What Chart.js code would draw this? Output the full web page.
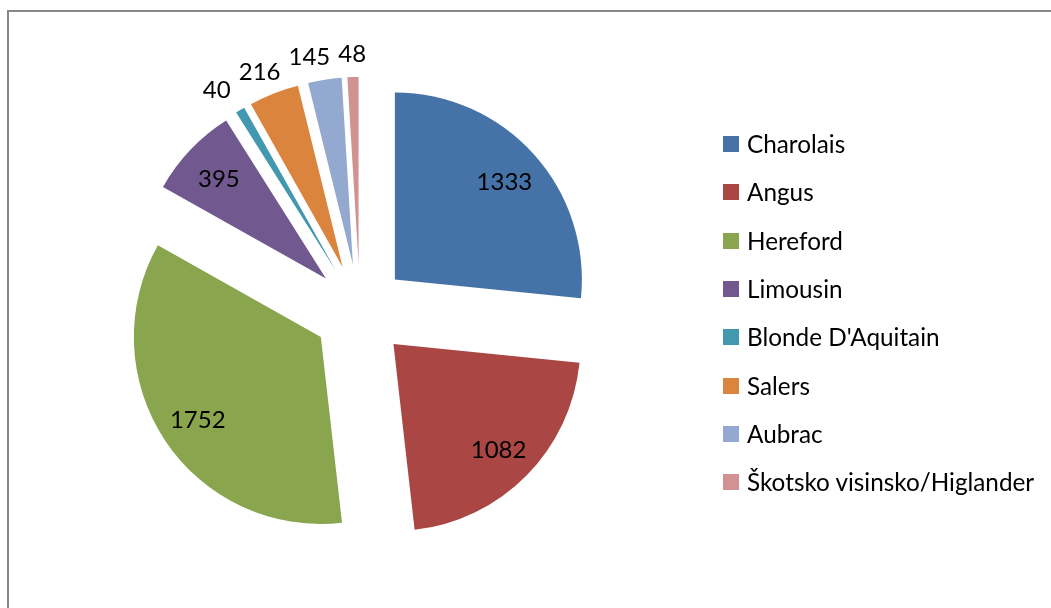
<!DOCTYPE html>
<html>
<head>
<meta charset="utf-8">
<script src="https://cdn.jsdelivr.net/npm/chart.js@4.4.0/dist/chart.umd.min.js"></script>
<style>
    body { margin: 0; background: #fff; font-family: Lato, "Open Sans", sans-serif; }
    #wrap { position: relative; width: 1051px; height: 608px; overflow: hidden; }
    #frame { position: absolute; left: 7px; top: 10px; width: 1100px; height: 700px;
             border-left: 2px solid #878787; border-top: 2px solid #878787; }
    #cattle-chart { position: absolute; left: 0; top: 0; }
    #legend { position: absolute; left: 723px; top: 136px; }
    .item { position: absolute; left: 0; height: 16px; white-space: nowrap; }
    .box { position: absolute; left: 0; top: 0; width: 16px; height: 16px; }
    .txt { position: absolute; left: 24px; top: -9px; font-size: 24.3px; line-height: 34px; color: #000; }
</style>
</head>
<body>
<div id="wrap">
    <div id="frame"></div>
    <canvas id="cattle-chart" width="1051" height="608"></canvas>
    <div id="legend"></div>
</div>
<script>
// --- Data ---
const breeds = ['Charolais', 'Angus', 'Hereford', 'Limousin', 'Blonde D\'Aquitain', 'Salers', 'Aubrac', 'Škotsko visinsko/Higlander'];
const headCount = [1333, 1082, 1752, 395, 40, 216, 145, 48];
const breedColors = ['#4572A7', '#AA4643', '#89A54E', '#71588F', '#4198AF', '#DB843D', '#93A9CF', '#D19392'];

const EXPLODE = 47;   // how far each slice is pulled out
const PIE_RADIUS = 187;

// Draw each slice pushed out along its middle angle (Excel style exploded pie)
const explodePlugin = {
    id: 'explode',
    beforeDatasetDraw(chart, args) {
        const ctx = chart.ctx;
        args.meta.data.forEach(arc => {
            const mid = (arc.startAngle + arc.endAngle) / 2;
            ctx.save();
            ctx.translate(Math.cos(mid) * EXPLODE, Math.sin(mid) * EXPLODE);
            arc.draw(ctx);
            ctx.restore();
        });
        return false;
    }
};

// Value labels: inside for big slices, outside end for the small ones
const valueLabelPlugin = {
    id: 'valueLabels',
    afterDatasetsDraw(chart) {
        const ctx = chart.ctx;
        const meta = chart.getDatasetMeta(0);
        ctx.save();
        ctx.font = '24px Lato, "Open Sans", sans-serif';
        ctx.fillStyle = '#000';
        ctx.textAlign = 'center';
        ctx.textBaseline = 'middle';

        const labels = meta.data.map((arc, i) => {
            const mid = (arc.startAngle + arc.endAngle) / 2;
            const dx = Math.cos(mid), dy = Math.sin(mid);
            const text = String(headCount[i]);
            const w = ctx.measureText(text).width;
            const h = 24;
            const cx = arc.x + dx * EXPLODE;
            const cy = arc.y + dy * EXPLODE;
            if (headCount[i] >= 300) {
                const d = arc.outerRadius * 0.79;
                return { text, w, h, inside: true, x: cx + dx * d, y: cy + dy * d };
            }
            // box sits just outside the rim, pushed away from the pie
            const d = arc.outerRadius + 13;
            return { text, w, h, inside: false,
                     x: cx + dx * d + dx * w / 2, y: cy + dy * d + dy * h / 2 };
        });

        // keep outside labels from crowding each other (push earlier one left)
        for (let i = labels.length - 2; i >= 0; i--) {
            const a = labels[i], b = labels[i + 1];
            if (a.inside || b.inside) continue;
            if (Math.abs(a.y - b.y) > (a.h + b.h) / 2) continue;
            const gap = (b.x - b.w / 2) - (a.x + a.w / 2);
            if (gap < 8) a.x -= (8 - gap);
        }

        labels.forEach(l => ctx.fillText(l.text, l.x, l.y + 2));
        ctx.restore();
    }
};

const legendEl = document.getElementById('legend');
breeds.forEach((name, i) => {
    const item = document.createElement('div');
    item.className = 'item';
    item.style.top = (i * 48.3) + 'px';
    item.innerHTML = '<div class="box" style="background:' + breedColors[i] + '"></div><div class="txt"></div>';
    item.querySelector('.txt').textContent = name;
    legendEl.appendChild(item);
});

new Chart(document.getElementById('cattle-chart'), {
    type: 'pie',
    data: {
        labels: breeds,
        datasets: [{
            data: headCount,
            backgroundColor: breedColors,
            borderWidth: 0
        }]
    },
    options: {
        responsive: false,
        animation: false,
        radius: PIE_RADIUS,
        layout: { padding: { left: 0, right: 331, top: 14, bottom: 0 } },
        plugins: {
            legend: { display: false },
            tooltip: { enabled: false }
        }
    },
    plugins: [explodePlugin, valueLabelPlugin]
});
</script>
</body>
</html>
